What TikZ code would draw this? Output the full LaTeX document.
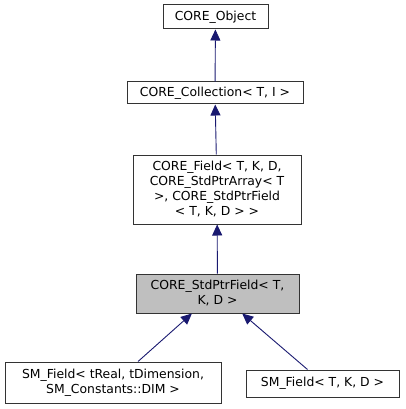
\documentclass[tikz,border=0pt]{standalone}
\usepackage{fontspec}
\setmainfont{DejaVu Sans}
\usetikzlibrary{arrows.meta}
\definecolor{edgeblue}{RGB}{25,25,112}
\definecolor{boxgray}{RGB}{191,191,191}

\begin{document}
\begin{tikzpicture}[x=1pt, y=-1pt,
    cls/.style={draw=black!80, fill=white, line width=1pt, align=center,
      inner sep=0pt, font=\fontsize{12.4}{15}\selectfont},
    inh/.style={draw=edgeblue, line width=0.9pt,
      -{Triangle[length=11pt, width=10pt, fill=edgeblue]}}]
      \useasboundingbox (0,0) rectangle (405,409);
      \node[cls, minimum width=105, minimum height=24] (obj) at (215.5,17) {CORE\_Object};
      \node[cls, minimum width=176, minimum height=22] (coll) at (215,93) {CORE\_Collection< T, I >};
      \node[cls, minimum width=168, minimum height=69] (fld) at (217,189.5)
        {CORE\_Field< T, K, D,\\ CORE\_StdPtrArray< T\\ >, CORE\_StdPtrField\\ < T, K, D > >};
      \node[cls, fill=boxgray, minimum width=163, minimum height=39] (sptr) at (217.5,293.5)
        {CORE\_StdPtrField< T,\\ K, D >};
      \node[cls, minimum width=216, minimum height=41] (smr) at (113,382.5)
        {SM\_Field< tReal, tDimension,\\ SM\_Constants::DIM >};
      \node[cls, minimum width=153, minimum height=27] (smt) at (322.5,383.5) {SM\_Field< T, K, D >};
      \draw[inh] (coll) -- (obj);
      \draw[inh] (fld) -- (coll);
      \draw[inh] (sptr) -- (fld);
      \draw[inh] (smr.40) -- (sptr.218.5);
      \draw[inh] (smt.137) -- (sptr.321.5);
    \end{tikzpicture}
\end{document}
